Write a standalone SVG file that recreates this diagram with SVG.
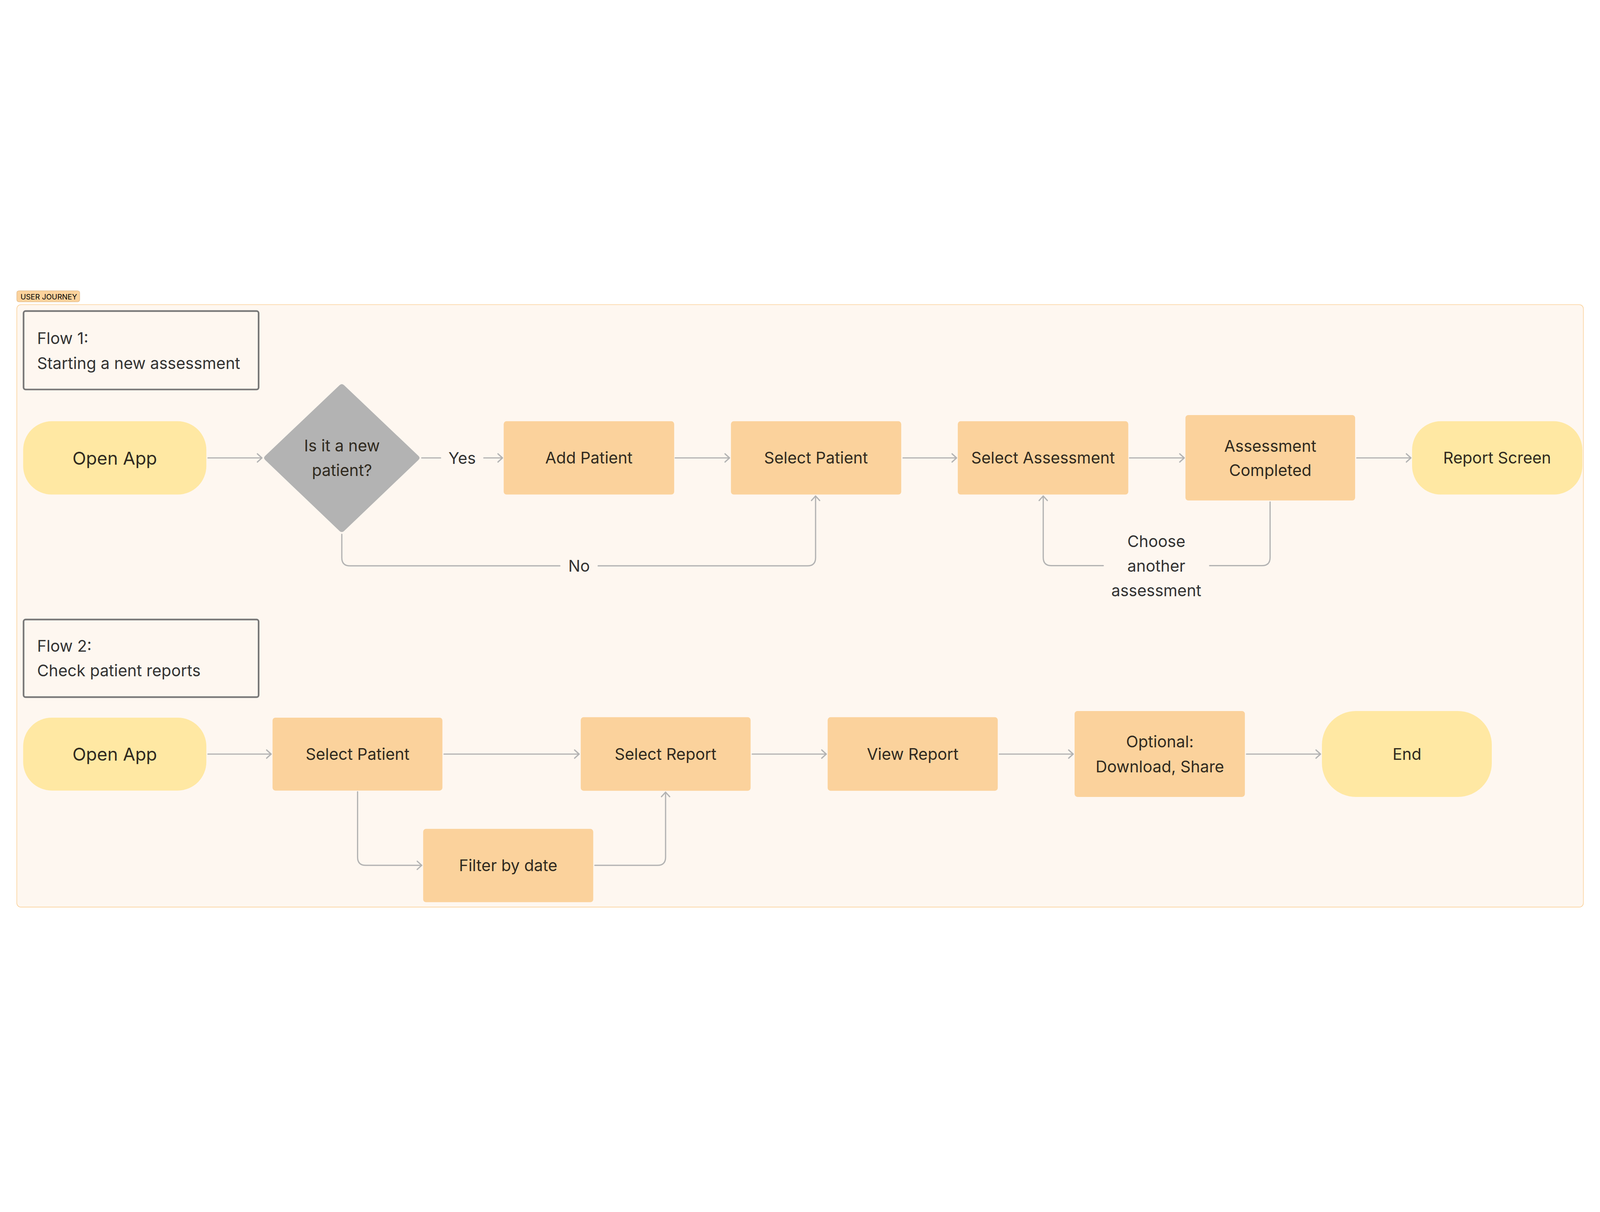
<svg xmlns="http://www.w3.org/2000/svg" width="7808" height="3104" viewBox="0 0 7808 3104" style="width:100vw;height:100vh">
<style>
text{font-family:Inter,"Noto Sans","Liberation Sans",sans-serif;fill:#333333}
.lbl{font-size:78px;text-anchor:middle}
.big{font-size:87px;text-anchor:middle}
.node text{fill:#302A20}
.flow{font-size:78px}
.pill{fill:#FFE8A3}
.box{fill:#FBD29C}
.dec{fill:#B3B3B3}
.frame{fill:none;stroke:#777777;stroke-width:8}
.conn{fill:none;stroke:#B3B3B3;stroke-width:6;stroke-linecap:round;stroke-linejoin:round}
.arr{marker-end:url(#arrow)}
</style>
<defs>
<marker id="arrow" viewBox="-30 -30 40 60" refX="0" refY="0" markerWidth="40" markerHeight="60" markerUnits="userSpaceOnUse" orient="auto">
<path d="M-22,-20 L0,0 L-22,20" fill="none" stroke="#B3B3B3" stroke-width="6" stroke-linecap="round" stroke-linejoin="round"/>
</marker>
</defs>
<rect width="7808" height="3104" fill="#FFFFFF"/>
<g id="section">
<rect x="82" y="81" width="7645" height="2941" rx="20" fill="#FEF7F0" stroke="#FBD29B" stroke-width="3"/>
<rect x="82" y="13" width="307" height="54" rx="10" fill="#FBD29C" stroke="#D9B07B" stroke-width="2"/>
<text x="100" y="55" style="font-size:36px;fill:#000000">USER JOURNEY</text>
</g>
<g id="flow1-title">
<rect class="frame" x="115" y="112" width="1147" height="383" rx="10"/>
<text class="flow" x="181" y="273">Flow 1:</text>
<text class="flow" x="181" y="394">Starting a new assessment</text>
</g>
<g id="flow2-title">
<rect class="frame" x="115" y="1618" width="1147" height="379" rx="10"/>
<text class="flow" x="181" y="1775">Flow 2:</text>
<text class="flow" x="181" y="1895">Check patient reports</text>
</g>
<g id="connectors">
<path class="conn arr" d="M1015,829 L1278,829"/>
<path class="conn" d="M2058,829 L2150,829"/>
<path class="conn arr" d="M2361,829 L2452,829"/>
<path class="conn arr" d="M3295,829 L3560,829"/>
<path class="conn arr" d="M4407,829 L4668,829"/>
<path class="conn arr" d="M5512,829 L5779,829"/>
<path class="conn arr" d="M6621,829 L6885,829"/>
<path class="conn" d="M1668,1202 L1668,1316 Q1668,1356 1708,1356 L2732,1356"/>
<path class="conn arr" d="M2919,1356 L3940,1356 Q3980,1356 3980,1316 L3980,1015"/>
<path class="conn" d="M6198,1044 L6198,1315 Q6198,1355 6158,1355 L5903,1355"/>
<path class="conn arr" d="M5384,1355 L5131,1355 Q5091,1355 5091,1315 L5091,1015"/>
<path class="conn arr" d="M1015,2275 L1323,2275"/>
<path class="conn arr" d="M2167,2275 L2826,2275"/>
<path class="conn arr" d="M3671,2275 L4032,2275"/>
<path class="conn arr" d="M4877,2275 L5237,2275"/>
<path class="conn arr" d="M6083,2275 L6444,2275"/>
<path class="conn arr" d="M1745,2459 L1745,2778 Q1745,2818 1785,2818 L2058,2818"/>
<path class="conn arr" d="M2903,2818 L3208,2818 Q3248,2818 3248,2778 L3248,2461"/>
<text class="lbl" x="2255" y="858">Yes</text>
<text class="lbl" x="2826" y="1384">No</text>
<text class="lbl" x="5643" y="1264">Choose</text>
<text class="lbl" x="5643" y="1385">another</text>
<text class="lbl" x="5643" y="1505">assessment</text>
</g>
<g id="open-app-1" class="node">
<rect class="pill" x="113" y="650" width="894" height="358" rx="140"/>
<text class="big" x="560" y="861">Open App</text>
</g>
<g id="decision-new-patient" class="node">
<path class="dec" d="M1294,819 L1657,474 Q1668,464 1679,474 L2042,819 Q2053,829 2042,839 L1679,1186 Q1668,1196 1657,1186 L1294,839 Q1283,829 1294,819 Z"/>
<text class="lbl" x="1669" y="798">Is it a new</text>
<text class="lbl" x="1669" y="918">patient?</text>
</g>
<g id="add-patient" class="node">
<rect class="box" x="2458" y="650" width="832" height="358" rx="14"/>
<text class="lbl" x="2874" y="857">Add Patient</text>
</g>
<g id="select-patient-1" class="node">
<rect class="box" x="3567" y="650" width="831" height="358" rx="14"/>
<text class="lbl" x="3982" y="857">Select Patient</text>
</g>
<g id="select-assessment" class="node">
<rect class="box" x="4674" y="650" width="832" height="358" rx="14"/>
<text class="lbl" x="5090" y="857">Select Assessment</text>
</g>
<g id="assessment-completed" class="node">
<rect class="box" x="5785" y="620" width="828" height="417" rx="14"/>
<text class="lbl" x="6199" y="799">Assessment</text>
<text class="lbl" x="6199" y="918">Completed</text>
</g>
<g id="report-screen" class="node">
<rect class="pill" x="6891" y="650" width="831" height="358" rx="140"/>
<text class="lbl" x="7306" y="857">Report Screen</text>
</g>
<g id="open-app-2" class="node">
<rect class="pill" x="113" y="2097" width="894" height="356" rx="140"/>
<text class="big" x="560" y="2307">Open App</text>
</g>
<g id="select-patient-2" class="node">
<rect class="box" x="1330" y="2097" width="829" height="356" rx="14"/>
<text class="lbl" x="1745" y="2303">Select Patient</text>
</g>
<g id="filter-by-date" class="node">
<rect class="box" x="2065" y="2640" width="830" height="358" rx="14"/>
<text class="lbl" x="2480" y="2847">Filter by date</text>
</g>
<g id="select-report" class="node">
<rect class="box" x="2834" y="2095" width="829" height="359" rx="14"/>
<text class="lbl" x="3248" y="2303">Select Report</text>
</g>
<g id="view-report" class="node">
<rect class="box" x="4039" y="2095" width="830" height="359" rx="14"/>
<text class="lbl" x="4454" y="2303">View Report</text>
</g>
<g id="optional-download-share" class="node">
<rect class="box" x="5244" y="2065" width="831" height="419" rx="14"/>
<text class="lbl" x="5660" y="2243">Optional:</text>
<text class="lbl" x="5660" y="2364">Download, Share</text>
</g>
<g id="end" class="node">
<rect class="pill" x="6451" y="2065" width="829" height="419" rx="165"/>
<text class="lbl" x="6866" y="2303">End</text>
</g>
</svg>
